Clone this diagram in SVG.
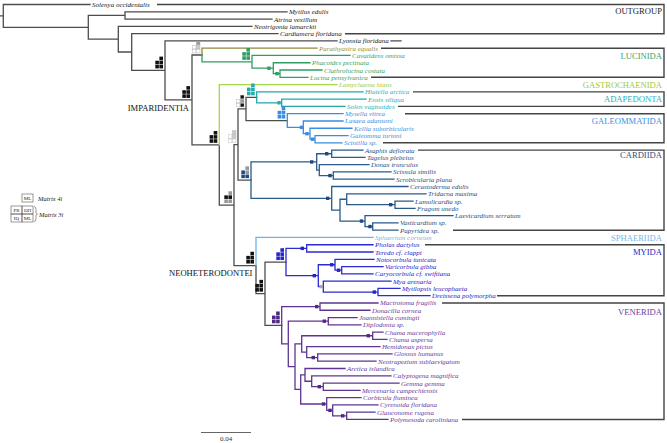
<svg xmlns="http://www.w3.org/2000/svg" width="667" height="443" viewBox="0 0 667 443">
<style>
.t{font-family:"Liberation Serif","Times New Roman",serif;font-style:italic;font-size:7px}
.cl{font-family:"Liberation Serif","Times New Roman",serif;font-size:8.6px;text-anchor:end}
.in{font-family:"Liberation Serif","Times New Roman",serif;font-size:8.6px;text-anchor:end;fill:#111}
.og{fill:#222}.ol{fill:#9a8f2c}.gr{fill:#35a56c}.li{fill:#9ccb3b}.te{fill:#2bb1b6}.bl{fill:#3d8fe0}.nv{fill:#2b4f80}.sk{fill:#76b6e8}.my{fill:#2626c8}.pu{fill:#6a3c9c}
.b{fill:none;stroke-width:1.3;stroke-linecap:square}
.k{stroke:#4d4d4d}.kol{stroke:#8f8a3a}.kgr{stroke:#2e9e62}.kli{stroke:#a6d64a}.kte{stroke:#22a8ac}.kbl{stroke:#3a8de0}.knv{stroke:#2a5a8a}.ksk{stroke:#6cb2e6}.kmy{stroke:#2b2bd0}.kpu{stroke:#5e3490}
.box{fill:none;stroke:#444;stroke-width:1.4}
.sq{stroke:#aaa;stroke-width:0.4}
</style>
<defs>
<g id="ann">
<rect x="-3.6" y="-11.8" width="3.6" height="3.6"/>
<rect x="-7.7" y="-7.7" width="3.6" height="3.6"/>
<rect x="-3.6" y="-7.7" width="3.6" height="3.6"/>
<rect x="-7.7" y="-3.6" width="3.6" height="3.6"/>
<rect x="-3.6" y="-3.6" width="3.6" height="3.6"/>
</g>
<rect id="dot" x="-1.7" y="-1.7" width="3.4" height="3.4"/>
</defs>
<rect width="667" height="443" fill="#fff"/>

<g id="connectors">
<path class="b k" d="M0 15.9H3.3M3.3 15.9V4.5H90M3.3 15.9V27.3H88.3M88.3 27.3V15.42H125M125 15.42V11.78H287M125 15.42V19.06H272M88.3 27.3V39.18H118.3M118.3 39.18V26.34H252M118.3 39.18V52.02H131.7M131.7 52.02V33.62H278M131.7 52.02V70.41H165M165 70.41V40.9H337M391 40.9H401M165 70.41V99.91H192M192 99.91V55H202M192 99.91V144.82H219.3M219.3 144.82V205.05H234M234 205.05V144.53H238M238 144.53V108.92H246M246 108.92V97.32H256.7M246 108.92V120.53H287.3M238 144.53V180.13H251M234 205.05V265.56H256M256 265.56V293.66H265M265 293.66V262.03H286M265 293.66V325.28H281.7"/>
<path class="b kol" d="M202 55V48.18H317"/>
<path class="b kgr" d="M202 55V61.83H252M252 61.83V55.46H350M252 61.83V68.2H273.3M273.3 68.2V62.74H310M273.3 68.2V73.66H280M280 73.66V70.02H322M280 73.66V77.3H308"/>
<path class="b kli" d="M219.3 144.82V84.58H337"/>
<path class="b kte" d="M256.7 97.32V91.86H363M256.7 97.32V102.78H281.7M281.7 102.78V99.14H366M281.7 102.78V106.42H345"/>
<path class="b kbl" d="M287.3 120.53V113.7H343M287.3 120.53V127.35H303.3M303.3 127.35V120.98H343M303.3 127.35V133.72H310M310 133.72V128.26H352M310 133.72V139.18H315M315 139.18V135.54H348M315 139.18V142.82H342"/>
<path class="b knv" d="M251 180.13V161.93H316.7M316.7 161.93V153.74H331.7M331.7 153.74V150.1H363M331.7 153.74V157.38H365M316.7 161.93V170.12H319.3M319.3 170.12V164.66H369M319.3 170.12V175.58H333.3M333.3 175.58V171.94H391M333.3 175.58V179.22H394M251 180.13V198.33H331.7M331.7 198.33V186.5H408M331.7 198.33V210.16H340M340 210.16V199.24H346.7M346.7 199.24V193.78H426M346.7 199.24V204.7H395M395 204.7V201.06H413M395 204.7V208.34H415M340 210.16V221.08H365M365 221.08V215.62H453M365 221.08V226.54H372.7M372.7 226.54V222.9H398M372.7 226.54V230.18H398"/>
<path class="b ksk" d="M256 265.56V237.46H373"/>
<path class="b kmy" d="M286 262.03V248.38H306.7M306.7 248.38V244.74H373M306.7 248.38V252.02H373M286 262.03V275.68H318.3M318.3 275.68V264.76H335M335 264.76V259.3H374M335 264.76V270.22H341.7M341.7 270.22V266.58H383M341.7 270.22V273.86H373M318.3 275.68V286.6H323.3M323.3 286.6V281.14H391M323.3 286.6V292.06H378M378 292.06V288.42H400M378 292.06V295.7H430"/>
<path class="b kpu" d="M281.7 325.28V306.62H320M320 306.62V302.98H378M320 306.62V310.26H370M281.7 325.28V343.93H288.3M288.3 343.93V321.18H328.3M328.3 321.18V317.54H357M328.3 321.18V324.82H361M288.3 343.93V366.68H295M295 366.68V343.93H301.7M301.7 343.93V335.74H372.7M372.7 335.74V332.1H383M372.7 335.74V339.38H387M301.7 343.93V352.12H306.7M306.7 352.12V346.66H380M306.7 352.12V357.58H317.7M317.7 357.58V353.94H392M317.7 357.58V361.22H376M295 366.68V389.43H300.7M300.7 389.43V374.87H305M305 374.87V368.5H345M305 374.87V381.24H311.7M311.7 381.24V375.78H391M311.7 381.24V386.7H323.3M323.3 386.7V383.06H399M323.3 386.7V390.34H360M300.7 389.43V403.99H326.7M326.7 403.99V397.62H361M326.7 403.99V410.36H332.7M332.7 410.36V404.9H378M332.7 410.36V415.82H346.7M346.7 415.82V412.18H375M346.7 415.82V419.46H388"/>
</g>

<g id="clade-boxes">
<path class="box" d="M157 4.5H664V33.8H345"/>
<path class="box" d="M381 48.18H664V77.3H371"/>
<path class="box" d="M413 91.86H664V106.42H398"/>
<path class="box" d="M405 113.7H664V142.82H383"/>
<path class="box" d="M418 150.1H664V230.18H453"/>
<path class="box" d="M425 244.74H664V295.7H497"/>
<path class="box" d="M442 302.98H664V419.46H462"/>
<text class="cl og" x="662" y="13.8">OUTGROUP</text>
<text class="cl gr" x="662" y="58.5">LUCINIDA</text>
<text class="cl li" x="662" y="88.2">GASTROCHAENIDA</text>
<text class="cl te" x="662" y="102">ADAPEDONTA</text>
<text class="cl bl" x="662" y="123.5">GALEOMMATIDA</text>
<text class="cl nv" x="662" y="157.5">CARDIIDA</text>
<text class="cl sk" x="662" y="240.8">SPHAERIIDA</text>
<text class="cl my" x="662" y="254.8">MYIDA</text>
<text class="cl pu" x="662" y="315.2">VENERIDA</text>
</g>

<g id="node-heterodonta"><use href="#ann" x="163" y="68.41" fill="#111"/></g>
<g id="node-imparidentia"><use href="#ann" x="190" y="97.91" fill="#111"/><text class="in" x="189" y="111">IMPARIDENTIA</text></g>
<g id="node-lucinida" class="sq"><g transform="translate(200,53)"><rect x="-3.6" y="-11.8" width="3.6" height="3.6" fill="#999"/><rect x="-7.7" y="-7.7" width="3.6" height="3.6" fill="#fff"/><rect x="-3.6" y="-7.7" width="3.6" height="3.6" fill="#ccc"/><rect x="-7.7" y="-3.6" width="3.6" height="3.6" fill="#fff"/><rect x="-3.6" y="-3.6" width="3.6" height="3.6" fill="#fff"/></g></g>
<g id="node-lucinida-core"><use href="#ann" x="250" y="59.83" fill="#2e9e62"/><use href="#dot" x="269" y="68.2" fill="#2e9e62"/><use href="#dot" x="277" y="73.66" fill="#2e9e62"/></g>
<g id="node-b"><use href="#ann" x="217.3" y="142.82" fill="#111"/></g>
<g id="node-c1" class="sq"><g transform="translate(236,142.53)"><rect x="-3.6" y="-11.8" width="3.6" height="3.6" fill="#ccc"/><rect x="-7.7" y="-7.7" width="3.6" height="3.6" fill="#fff"/><rect x="-3.6" y="-7.7" width="3.6" height="3.6" fill="#ccc"/><rect x="-7.7" y="-3.6" width="3.6" height="3.6" fill="#fff"/><rect x="-3.6" y="-3.6" width="3.6" height="3.6" fill="#fff"/></g></g>
<g id="node-d" class="sq"><g transform="translate(244,106.92)"><rect x="-3.6" y="-11.8" width="3.6" height="3.6" fill="#111"/><rect x="-7.7" y="-7.7" width="3.6" height="3.6" fill="#fff"/><rect x="-3.6" y="-7.7" width="3.6" height="3.6" fill="#999"/><rect x="-7.7" y="-3.6" width="3.6" height="3.6" fill="#fff"/><rect x="-3.6" y="-3.6" width="3.6" height="3.6" fill="#111"/></g></g>
<g id="node-adapedonta"><use href="#ann" x="254.7" y="95.32" fill="#25aab0"/><use href="#dot" x="279" y="102.78" fill="#25aab0"/></g>
<g id="node-galeommatida"><use href="#ann" x="285.3" y="118.53" fill="#3a8de0"/><use href="#dot" x="301.5" y="127.35" fill="#3a8de0"/><use href="#dot" x="307" y="133.72" fill="#3a8de0"/><use href="#dot" x="312.5" y="139.18" fill="#3a8de0"/></g>
<g id="node-cardiida"><g transform="translate(249,178.13)"><rect x="-3.6" y="-11.8" width="3.6" height="3.6" fill="#999"/><rect x="-7.7" y="-7.7" width="3.6" height="3.6" fill="#1f4a80"/><rect x="-3.6" y="-7.7" width="3.6" height="3.6" fill="#999"/><rect x="-7.7" y="-3.6" width="3.6" height="3.6" fill="#1f4a80"/><rect x="-3.6" y="-3.6" width="3.6" height="3.6" fill="#1f4a80"/></g>
<g fill="#1f4a80"><use href="#dot" x="311.7" y="161.93"/><use href="#dot" x="326.7" y="153.74"/><use href="#dot" x="330" y="175.58"/><use href="#dot" x="327.7" y="198.33"/><use href="#dot" x="390.7" y="204.7"/><use href="#dot" x="361.5" y="221.08"/><use href="#dot" x="370" y="226.54"/></g></g>
<g id="node-c"><g transform="translate(232,203.05)"><rect x="-3.6" y="-11.8" width="3.6" height="3.6" fill="#999"/><rect x="-7.7" y="-7.7" width="3.6" height="3.6" fill="#111"/><rect x="-3.6" y="-7.7" width="3.6" height="3.6" fill="#111"/><rect x="-7.7" y="-3.6" width="3.6" height="3.6" fill="#999"/><rect x="-3.6" y="-3.6" width="3.6" height="3.6" fill="#999"/></g></g>
<g id="node-neoheterodontei"><use href="#ann" x="254" y="263.56" fill="#111"/><text class="in" x="252.5" y="276">NEOHETERODONTEI</text></g>
<g id="node-f"><use href="#ann" x="263" y="291.66" fill="#111"/></g>
<g id="node-myida"><use href="#ann" x="284" y="260.03" fill="#2424c8"/>
<g fill="#2424c8"><use href="#dot" x="302.3" y="248.38"/><use href="#dot" x="314.3" y="275.68"/><use href="#dot" x="331.7" y="264.76"/><use href="#dot" x="338.5" y="270.22"/><use href="#dot" x="374.3" y="292.06"/></g><use href="#dot" x="321" y="286.6" fill="#aaa"/></g>
<g id="node-venerida"><use href="#ann" x="279.7" y="323.28" fill="#4f2a85"/>
<g fill="#4f2a85"><use href="#dot" x="316.7" y="306.62"/><use href="#dot" x="324.3" y="321.18"/><use href="#dot" x="368.3" y="335.74"/><use href="#dot" x="313.3" y="357.58"/><use href="#dot" x="319.3" y="386.7"/><use href="#dot" x="323.5" y="403.99"/><use href="#dot" x="330" y="410.36"/><use href="#dot" x="342.7" y="415.82"/></g></g>

<g id="leaves" class="t">
<g id="leaf-solenya"><text class="og" x="92" y="7">Solenya occidentalis</text></g>
<g id="leaf-mytilus"><text class="og" x="289" y="14.28">Mytilus edulis</text></g>
<g id="leaf-atrina"><text class="og" x="274" y="21.56">Atrina vexillum</text></g>
<g id="leaf-neotrigonia"><text class="og" x="254" y="28.84">Neotrigonia lamarckii</text></g>
<g id="leaf-cardiamera"><text class="og" x="280" y="36.12">Cardiamera floridana</text></g>
<g id="leaf-lyonsia"><text class="og" x="339" y="43.4">Lyonsia floridana</text></g>
<g id="leaf-parathyasira"><text class="ol" x="319" y="50.68">Parathyasira equalis</text></g>
<g id="leaf-cavatidens"><text class="gr" x="352" y="57.96">Cavatidens omissa</text></g>
<g id="leaf-phacoides"><text class="gr" x="312" y="65.24">Phacoides pectinata</text></g>
<g id="leaf-clathrolucina"><text class="gr" x="324" y="72.52">Clathrolucina costata</text></g>
<g id="leaf-lucina"><text class="gr" x="310" y="79.8">Lucina pensylvanica</text></g>
<g id="leaf-lamychaena"><text class="li" x="339" y="87.08">Lamychaena hians</text></g>
<g id="leaf-hiatella"><text class="te" x="365" y="94.36">Hiatella arctica</text></g>
<g id="leaf-ensis"><text class="te" x="368" y="101.64">Ensis siliqua</text></g>
<g id="leaf-solen"><text class="te" x="347" y="108.92">Solen vaginoides</text></g>
<g id="leaf-mysella"><text class="bl" x="345" y="116.2">Mysella vitrea</text></g>
<g id="leaf-lasaea"><text class="bl" x="345" y="123.48">Lasaea adansoni</text></g>
<g id="leaf-kellia"><text class="bl" x="354" y="130.76">Kellia suborbicularis</text></g>
<g id="leaf-galeomma"><text class="bl" x="350" y="138.04">Galeomma turtoni</text></g>
<g id="leaf-scintilla"><text class="bl" x="344" y="145.32">Scintilla sp.</text></g>
<g id="leaf-asaphis"><text class="nv" x="365" y="152.6">Asaphis deflorata</text></g>
<g id="leaf-tagelus"><text class="nv" x="367" y="159.88">Tagelus plebeius</text></g>
<g id="leaf-donax"><text class="nv" x="371" y="167.16">Donax trunculus</text></g>
<g id="leaf-scissula"><text class="nv" x="393" y="174.44">Scissula similis</text></g>
<g id="leaf-scrobicularia"><text class="nv" x="396" y="181.72">Scrobicularia plana</text></g>
<g id="leaf-cerastoderma"><text class="nv" x="410" y="189">Cerastoderma edulis</text></g>
<g id="leaf-tridacna"><text class="nv" x="428" y="196.28">Tridacna maxima</text></g>
<g id="leaf-lamulicardia"><text class="nv" x="415" y="203.56">Lamulicardia sp.</text></g>
<g id="leaf-fragum"><text class="nv" x="417" y="210.84">Fragum unedo</text></g>
<g id="leaf-laevicardium"><text class="nv" x="455" y="218.12">Laevicardium serratum</text></g>
<g id="leaf-vasticardium"><text class="nv" x="400" y="225.4">Vasticardium sp.</text></g>
<g id="leaf-papyridea"><text class="nv" x="400" y="232.68">Papyridea sp.</text></g>
<g id="leaf-sphaerium"><text class="sk" x="375" y="239.96">Sphaerium corneum</text></g>
<g id="leaf-pholas"><text class="my" x="375" y="247.24">Pholas dactylus</text></g>
<g id="leaf-teredo"><text class="my" x="375" y="254.52">Teredo cf. clappi</text></g>
<g id="leaf-notocorbula"><text class="my" x="376" y="261.8">Notocorbula tunicata</text></g>
<g id="leaf-varicorbula"><text class="my" x="385" y="269.08">Varicorbula gibba</text></g>
<g id="leaf-caryocorbula"><text class="my" x="375" y="276.36">Caryocorbula cf. swiftiana</text></g>
<g id="leaf-mya"><text class="my" x="393" y="283.64">Mya arenaria</text></g>
<g id="leaf-mytilopsis"><text class="my" x="402" y="290.92">Mytilopsis leucophaeta</text></g>
<g id="leaf-dreissena"><text class="my" x="432" y="298.2">Dreissena polymorpha</text></g>
<g id="leaf-mactrotoma"><text class="pu" x="380" y="305.48">Mactrotoma fragilis</text></g>
<g id="leaf-donacilla"><text class="pu" x="372" y="312.76">Donacilla cornea</text></g>
<g id="leaf-joannisiella"><text class="pu" x="359" y="320.04">Joannisiella cumingii</text></g>
<g id="leaf-diplodonta"><text class="pu" x="363" y="327.32">Diplodonta sp.</text></g>
<g id="leaf-chama-m"><text class="pu" x="385" y="334.6">Chama macerophylla</text></g>
<g id="leaf-chama-a"><text class="pu" x="389" y="341.88">Chama aspersa</text></g>
<g id="leaf-hemidonax"><text class="pu" x="382" y="349.16">Hemidonax pictus</text></g>
<g id="leaf-glossus"><text class="pu" x="394" y="356.44">Glossus humanus</text></g>
<g id="leaf-neotrapezium"><text class="pu" x="378" y="363.72">Neotrapezium sublaevigatum</text></g>
<g id="leaf-arctica"><text class="pu" x="347" y="371">Arctica islandica</text></g>
<g id="leaf-calyptogena"><text class="pu" x="393" y="378.28">Calyptogena magnifica</text></g>
<g id="leaf-gemma"><text class="pu" x="401" y="385.56">Gemma gemma</text></g>
<g id="leaf-mercenaria"><text class="pu" x="362" y="392.84">Mercenaria campechiensis</text></g>
<g id="leaf-corbicula"><text class="pu" x="363" y="400.12">Corbicula fluminea</text></g>
<g id="leaf-cyrenoida"><text class="pu" x="380" y="407.4">Cyrenoida floridana</text></g>
<g id="leaf-glauconome"><text class="pu" x="377" y="414.68">Glauconome rugosa</text></g>
<g id="leaf-polymesoda"><text class="pu" x="390" y="421.96">Polymesoda caroliniana</text></g>
</g>

<g id="scale-bar">
<path d="M201 432.5H251" stroke="#666" stroke-width="1"/>
<text x="226" y="441" font-family="Liberation Serif, serif" font-size="7" text-anchor="middle" fill="#333">0.04</text>
</g>

<g id="legend" font-family="Liberation Serif, serif" fill="none" stroke="#555" stroke-width="0.6">
<rect x="22" y="194" width="11" height="8"/>
<rect x="11" y="206" width="11" height="8"/>
<rect x="22" y="206" width="11" height="8"/>
<rect x="11" y="214" width="11" height="8"/>
<rect x="22" y="214" width="11" height="8"/>
<path d="M34 206.5q2 0 2 3v3.5l1.5 1-1.5 1v3.5q0 3-2 3"/>
<g stroke="none" fill="#222" font-size="5" text-anchor="middle">
<text x="27.5" y="200">ML</text>
<text x="16.5" y="212">PR</text>
<text x="27.5" y="212">DH</text>
<text x="16.5" y="220">IQ</text>
<text x="27.5" y="220">ML</text>
</g>
<g stroke="none" fill="#222" font-size="6.5" font-style="italic">
<text x="38" y="200.5">Matrix 4i</text>
<text x="39" y="217">Matrix 3i</text>
</g>
</g>
</svg>
